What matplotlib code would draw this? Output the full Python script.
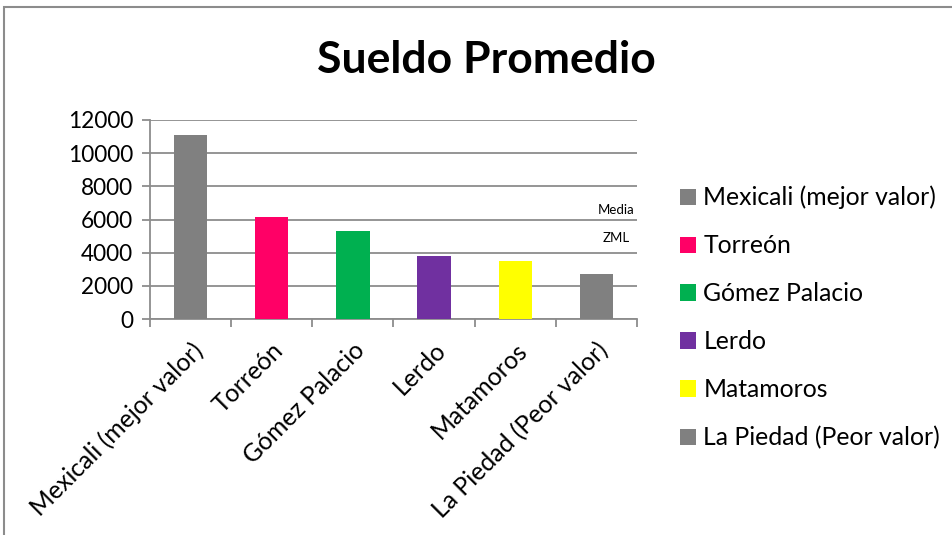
import matplotlib
matplotlib.use("Agg")
import matplotlib.pyplot as plt
from matplotlib.patches import Patch, Rectangle

plt.rcParams['font.family'] = ['Lato', 'DejaVu Sans']

categories = ["Mexicali (mejor valor)", "Torreón", "Gómez Palacio", "Lerdo",
              "Matamoros", "La Piedad (Peor valor)"]
values = [11100, 6130, 5300, 3800, 3500, 2700]
colors = ["#808080", "#FF0066", "#00B050", "#7030A0", "#FFFF00", "#808080"]
yticks = [0, 2000, 4000, 6000, 8000, 10000, 12000]
title = "Sueldo Promedio"
notes = [("Media", 6570), ("ZML", 4880)]

W, H = 953, 535
fig = plt.figure(figsize=(W / 100, H / 100), dpi=100)

# outer chart frame (only left and top edges visible)
fig.patches.append(Rectangle((4 / W, -0.1), 1.2, 1.1 - 7 / H, transform=fig.transFigure,
                             fill=False, edgecolor="#8C8C8C", linewidth=1.5))

ax = fig.add_axes([150 / W, 1 - 319 / H, (637 - 150) / W, (319 - 120) / H])
x = list(range(len(categories)))
ax.bar(x, values, width=0.41, color=colors, zorder=3)
ax.set_xlim(-0.5, len(categories) - 0.5)
ax.set_ylim(0, 12000)
ax.set_yticks(yticks)
ax.set_yticklabels([str(v) for v in yticks], fontsize=16.3)
ax.yaxis.grid(True, color="#8C8C8C", linewidth=1.3, zorder=0)
ax.set_axisbelow(True)

# category boundary ticks
ax.set_xticks([i - 0.5 for i in range(len(categories) + 1)])
ax.set_xticklabels([])
ax.set_xticks(x, minor=True)
ax.set_xticklabels(categories, minor=True, rotation=45, ha='right',
                   rotation_mode='anchor', fontsize=17.8)
ax.tick_params(axis='x', which='minor', length=0, pad=14)
ax.tick_params(axis='x', which='major', length=6, width=1.3, color="#8C8C8C", direction='out')
ax.tick_params(axis='y', length=6, width=1.3, color="#8C8C8C", pad=6)

for s in ['top', 'right']:
    ax.spines[s].set_visible(False)
for s in ['left', 'bottom']:
    ax.spines[s].set_color("#8C8C8C")
    ax.spines[s].set_linewidth(1.3)

for txt, yv in notes:
    ax.text(5.24, yv, txt, ha='center', va='center', fontsize=9.5)

fig.text(486 / W, 1 - 60 / H, title, ha='center', va='center',
         fontsize=32, fontweight='bold')

handles = [Patch(facecolor=c, edgecolor='none') for c in colors]
fig.legend(handles, categories, loc='upper left', bbox_to_anchor=(670 / W, 1 - 176 / H),
           frameon=False, fontsize=17.8, handlelength=0.65, handleheight=0.65,
           handletextpad=0.3, labelspacing=1.01, borderaxespad=0)

fig.savefig("out.png", dpi=100)
